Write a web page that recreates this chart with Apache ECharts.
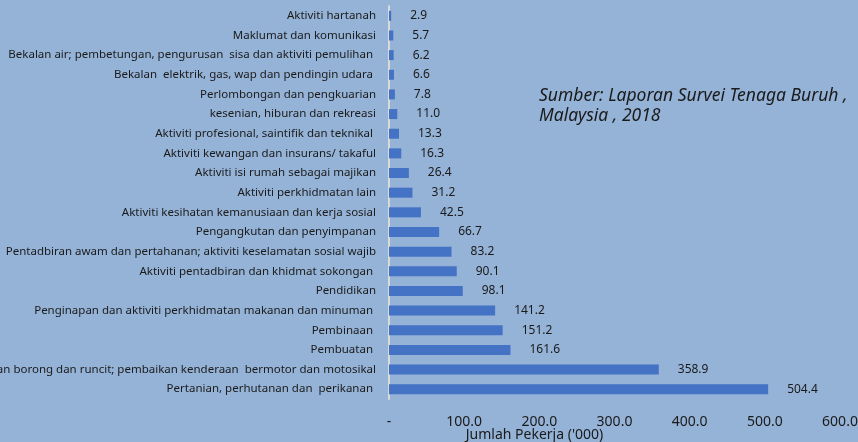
<!DOCTYPE html>
<html>
<head>
<meta charset="utf-8">
<script src="https://cdn.jsdelivr.net/npm/echarts@6/dist/echarts.min.js"></script>
<style>
    html, body { margin: 0; padding: 0; background: #95b3d7; }
    #chart { width: 858px; height: 442px; }
</style>
</head>
<body>
<div id="chart"></div>
<script>
// 类目（从上到下）
var sektor = [
    'Aktiviti hartanah',
    'Maklumat dan komunikasi',
    'Bekalan air; pembetungan, pengurusan  sisa dan aktiviti pemulihan ',
    'Bekalan  elektrik, gas, wap dan pendingin udara ',
    'Perlombongan dan pengkuarian',
    'kesenian, hiburan dan rekreasi',
    'Aktiviti profesional, saintifik dan teknikal ',
    'Aktiviti kewangan dan insurans/ takaful',
    'Aktiviti isi rumah sebagai majikan',
    'Aktiviti perkhidmatan lain',
    'Aktiviti kesihatan kemanusiaan dan kerja sosial',
    'Pengangkutan dan penyimpanan',
    'Pentadbiran awam dan pertahanan; aktiviti keselamatan sosial wajib',
    'Aktiviti pentadbiran dan khidmat sokongan ',
    'Pendidikan',
    'Penginapan dan aktiviti perkhidmatan makanan dan minuman ',
    'Pembinaan ',
    'Pembuatan ',
    'Perdagangan borong dan runcit; pembaikan kenderaan  bermotor dan motosikal',
    'Pertanian, perhutanan dan  perikanan '
];
// 数值（千人）
var pekerja = [2.9, 5.7, 6.2, 6.6, 7.8, 11.0, 13.3, 16.3, 26.4, 31.2,
    42.5, 66.7, 83.2, 90.1, 98.1, 141.2, 151.2, 161.6, 358.9, 504.4];
// x轴刻度文字
var tickLabels = ['-', '100.0', '200.0', '300.0', '400.0', '500.0', '600.0'];

var myChart = echarts.init(document.getElementById('chart'));
var option = {
    backgroundColor: '#95b3d7',
    textStyle: { fontFamily: 'Noto Sans' },
    grid: {
        left: 389,
        right: 18,
        top: 6,
        bottom: 43,
        containLabel: false,
        outerBoundsMode: 'none'
    },
    xAxis: {
        type: 'value',
        min: 0,
        max: 600,
        interval: 100,
        name: "Jumlah Pekerja ('000)",
        nameLocation: 'middle',
        nameGap: 29,
        nameMoveOverlap: false,
        nameTextStyle: { color: '#1a1a1a', fontSize: 14, padding: [0, 160, 0, 0] },
        axisLine: { show: false },
        axisTick: { show: false },
        splitLine: { show: false },
        axisLabel: {
            color: '#1a1a1a',
            fontSize: 14,
            margin: 16,
            formatter: function(v) { return tickLabels[Math.round(v / 100)]; }
        }
    },
    yAxis: {
        type: 'category',
        inverse: true,
        data: sektor,
        axisLine: { show: true, lineStyle: { color: '#d9d9d9', width: 2 } },
        axisTick: { show: false },
        axisLabel: { color: '#1a1a1a', fontSize: 11.5, margin: 13 }
    },
    graphic: [{
        type: 'text',
        left: 539,
        top: 86,
        style: {
            text: 'Sumber: Laporan Survei Tenaga Buruh ,\nMalaysia , 2018',
            font: 'italic 17.5px "Noto Sans"',
            fill: '#1a1a1a',
            lineHeight: 20
        }
    }],
    series: [{
        type: 'bar',
        data: pekerja,
        barWidth: 10,
        itemStyle: { color: '#4472c4' },
        label: {
            show: true,
            position: 'right',
            distance: 19,
            color: '#1a1a1a',
            fontSize: 12,
            formatter: function(p) { return p.value.toFixed(1); }
        }
    }]
};
myChart.setOption(option);
</script>
</body>
</html>
